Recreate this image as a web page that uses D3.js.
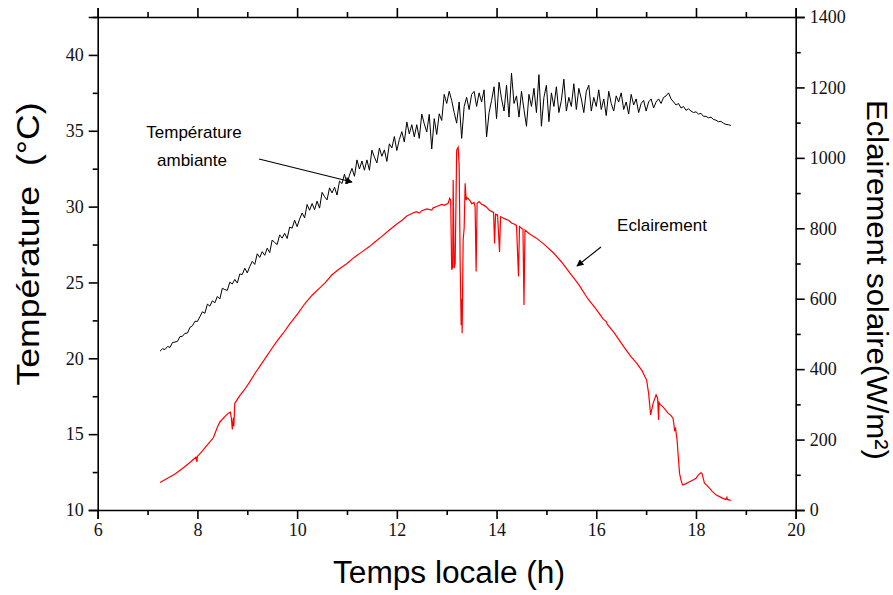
<!DOCTYPE html>
<html><head><meta charset="utf-8">
<script src="https://cdn.jsdelivr.net/npm/d3@7"></script>
<style>body{margin:0;background:#fff}svg{display:block}</style>
</head><body><svg id="c" width="893" height="595"></svg>
<script>
// ---- data ----
const xTicks = [6, 8, 10, 12, 14, 16, 18, 20];
const xMinor = [7, 9, 11, 13, 15, 17, 19];
const tempTicks = [10, 15, 20, 25, 30, 35, 40];
const tempMinor = [12.5, 17.5, 22.5, 27.5, 32.5, 37.5, 42.5];
const irrTicks = [0, 200, 400, 600, 800, 1000, 1200, 1400];
const irrMinor = [100, 300, 500, 700, 900, 1100, 1300];

// ambient temperature (time h, °C)
const temperature = [
[7.25,20.47],[7.30,20.63],[7.35,20.58],[7.40,20.78],[7.45,20.72],[7.50,21.04],[7.55,21.07],[7.60,21.12],[7.65,21.43],[7.70,21.45],
[7.75,21.65],[7.80,21.66],[7.85,22.04],[7.90,22.14],[7.95,22.44],[8.00,22.43],[8.05,22.75],[8.10,23.07],[8.15,22.97],[8.20,23.57],
[8.25,23.44],[8.30,23.79],[8.35,23.66],[8.40,24.08],[8.45,23.91],[8.50,24.62],[8.55,24.53],[8.60,24.48],[8.65,25.02],[8.70,24.9],
[8.75,25.2],[8.80,24.96],[8.85,25.56],[8.90,25.52],[8.95,25.94],[9.00,25.63],[9.05,26.05],[9.10,26.39],[9.15,26.19],[9.20,26.89],
[9.25,26.65],[9.30,27.03],[9.35,26.79],[9.40,27.26],[9.45,26.97],[9.50,27.8],[9.55,27.63],[9.60,27.5],[9.65,28.14],[9.70,27.92],
[9.75,28.24],[9.80,27.9],[9.85,28.65],[9.90,28.58],[9.95,29.1],[10.00,28.68],[10.05,29.18],[10.10,29.58],[10.15,29.26],[10.20,30.14],
[10.25,29.76],[10.30,30.2],[10.35,29.8],[10.40,30.36],[10.45,29.9],[10.50,30.94],[10.55,30.66],[10.60,30.44],[10.65,31.24],[10.70,30.9],
[10.75,31.28],[10.80,30.76],[10.85,31.68],[10.90,31.52],[10.95,32.14],[11.00,31.5],[11.05,32.08],[11.10,32.52],[11.15,32.0],[11.20,33.08],
[11.25,32.48],[11.30,33.0],[11.35,32.4],[11.40,33.08],[11.45,32.4],[11.50,33.72],[11.55,33.26],[11.60,32.88],[11.65,33.86],[11.70,33.32],
[11.75,33.74],[11.80,32.98],[11.85,34.14],[11.90,33.86],[11.95,34.62],[12.00,33.7],[12.05,34.42],[12.10,34.94],[12.15,34.26],[12.20,35.58],
[12.25,34.8],[12.30,35.4],[12.35,34.6],[12.40,35.4],[12.45,34.5],[12.50,36.1],[12.55,35.46],[12.60,34.92],[12.65,36.08],[12.70,33.8],
[12.75,35.8],[12.80,34.76],[12.85,36.12],[12.90,35.68],[12.95,37.4],[13.00,36.8],[13.05,37.6],[13.10,37.0],[13.15,36.2],[13.20,35.5],
[13.25,36.9],[13.30,34.5],[13.35,36.6],[13.40,37.2],[13.45,36.4],[13.50,37.4],[13.55,37.6],[13.60,36.6],[13.65,37.5],[13.70,36.9],
[13.75,37.7],[13.80,34.6],[13.85,36.2],[13.90,37.0],[13.95,37.9],[14.00,35.8],[14.05,38.2],[14.10,37.1],[14.15,36.3],[14.20,38.0],
[14.25,35.9],[14.30,38.8],[14.35,36.8],[14.40,37.3],[14.45,35.9],[14.50,37.6],[14.55,36.4],[14.60,35.3],[14.65,37.4],[14.70,36.6],
[14.75,37.8],[14.80,36.2],[14.85,38.7],[14.90,35.3],[14.95,37.2],[15.00,38.0],[15.05,35.6],[15.10,37.5],[15.15,36.6],[15.20,37.9],
[15.25,36.2],[15.30,37.0],[15.35,38.4],[15.40,36.3],[15.45,37.2],[15.50,36.6],[15.55,38.1],[15.60,36.4],[15.65,37.8],[15.70,37.1],
[15.75,36.2],[15.80,37.6],[15.85,38.0],[15.90,36.3],[15.95,37.2],[16.00,36.6],[16.05,37.7],[16.10,36.4],[16.15,37.1],[16.20,36.0],
[16.25,37.6],[16.30,36.8],[16.35,36.3],[16.40,37.3],[16.45,36.9],[16.50,37.5],[16.55,36.4],[16.60,36.9],[16.65,36.1],[16.70,37.4],
[16.75,36.7],[16.80,37.1],[16.85,36.2],[16.90,36.8],[16.95,37.0],[17.00,36.3],[17.05,36.9],[17.10,37.1],[17.15,36.5],[17.20,36.9],
[17.25,37.1],[17.30,36.8],[17.35,37.2],[17.40,37.3],[17.45,37.5],[17.50,37.1],[17.55,36.9],[17.60,36.7],[17.65,36.8],[17.70,36.5],
[17.75,36.6],[17.80,36.35],[17.85,36.45],[17.90,36.3],[17.95,36.2],[18.00,36.25],[18.05,36.1],[18.10,36.15],[18.15,35.95],[18.20,35.95],
[18.25,35.85],[18.30,35.9],[18.35,35.75],[18.40,35.7],[18.45,35.6],[18.50,35.62],[18.55,35.5],[18.60,35.42],[18.65,35.4],[18.70,35.35]
];

// solar irradiance (time h, W/m²)
const irradiance = [
[7.25,78],[7.4,90],[7.55,102],[7.7,118],[7.85,135],[7.97,150],[7.99,137],[8.0,152],[8.1,168],[8.2,185],[8.32,205],[8.4,235],
[8.45,250],[8.55,265],[8.62,275],[8.66,278],[8.68,262],[8.7,229],[8.72,262],[8.73,238],[8.75,303],[8.85,325],[8.95,343],
[9.05,364],[9.15,387],[9.25,408],[9.38,435],[9.5,460],[9.6,480],[9.72,502],[9.85,528],[10.02,559],[10.15,585],[10.3,610],
[10.45,630],[10.56,645],[10.7,668],[10.85,685],[11.0,700],[11.15,718],[11.3,733],[11.45,748],[11.56,761],[11.7,777],
[11.85,795],[12.0,812],[12.1,822],[12.2,835],[12.3,842],[12.39,847],[12.45,843],[12.5,850],[12.6,855],[12.7,852],[12.73,858],
[12.8,862],[12.9,868],[12.95,865],[13.03,871],[13.06,885],[13.08,880],[13.1,682],[13.12,690],[13.13,937],[13.15,687],
[13.17,700],[13.2,1022],[13.23,1030],[13.25,980],[13.27,700],[13.29,525],[13.3,600],[13.31,502],[13.33,767],[13.35,800],
[13.37,928],[13.39,880],[13.41,887],[13.43,885],[13.47,878],[13.5,870],[13.55,873],[13.57,860],[13.59,677],[13.61,871],
[13.65,876],[13.7,868],[13.75,865],[13.8,860],[13.85,852],[13.9,848],[13.94,845],[13.96,757],[13.98,840],[14.02,838],
[14.06,733],[14.08,833],[14.12,830],[14.18,826],[14.25,822],[14.3,815],[14.35,812],[14.4,808],[14.44,663],[14.46,805],
[14.5,800],[14.53,797],[14.55,582],[14.57,795],[14.65,785],[14.8,772],[14.95,755],[15.15,729],[15.3,705],[15.5,668],
[15.65,640],[15.83,600],[16.0,570],[16.14,542],[16.2,535],[16.22,528],[16.35,505],[16.55,464],[16.7,435],[16.81,417],
[16.92,395],[17.01,369],[17.05,331],[17.09,270],[17.12,290],[17.14,303],[17.2,327],[17.23,318],[17.25,256],[17.26,305],
[17.28,300],[17.34,293],[17.44,275],[17.5,268],[17.54,260],[17.56,240],[17.57,227],[17.59,232],[17.62,200],[17.64,161],
[17.67,104],[17.7,85],[17.73,71],[17.8,75],[17.87,80],[17.95,86],[18.0,90],[18.05,100],[18.1,106],[18.12,104],[18.17,76],
[18.22,70],[18.27,62],[18.33,52],[18.4,43],[18.47,38],[18.54,33],[18.6,30],[18.62,36],[18.63,30],[18.67,28],[18.7,28]
];

// ---- chart ----
const svg = d3.select("#c");
const L = 97.7, R = 795.7, T = 17, B = 510;
const x = d3.scaleLinear().domain([6, 20]).range([L, R]);
const yT = d3.scaleLinear().domain([10, 42.5]).range([B, T]);
const yE = d3.scaleLinear().domain([0, 1400]).range([B, T]);

const serif = "Liberation Serif, Times New Roman, serif";
const sans = "Liberation Sans, Arial, sans-serif";

function styleAxis(g, labels) {
  g.attr("font-family", serif).attr("font-size", 18);
  g.select(".domain").attr("stroke", "#000").attr("stroke-width", 1.6);
  g.selectAll(".tick line").attr("stroke", "#000").attr("stroke-width", 1.6);
  g.selectAll(".tick text").attr("fill", "#111").attr("font-family", serif);
  if (!labels) g.selectAll(".tick text").remove();
}

// bottom
svg.append("g").attr("transform", `translate(0,${B})`)
  .call(d3.axisBottom(x).tickValues(xTicks).tickSize(9).tickPadding(4).tickFormat(d3.format("d")))
  .call(g => styleAxis(g, true));
svg.append("g").attr("transform", `translate(0,${B})`)
  .call(d3.axisBottom(x).tickValues(xMinor).tickSize(5))
  .call(g => { styleAxis(g, false); g.select(".domain").remove(); });
// top
svg.append("g").attr("transform", `translate(0,${T})`)
  .call(d3.axisTop(x).tickValues(xTicks).tickSize(9))
  .call(g => styleAxis(g, false));
svg.append("g").attr("transform", `translate(0,${T})`)
  .call(d3.axisTop(x).tickValues(xMinor).tickSize(5))
  .call(g => { styleAxis(g, false); g.select(".domain").remove(); });
// left
svg.append("g").attr("transform", `translate(${L},0)`)
  .call(d3.axisLeft(yT).tickValues(tempTicks).tickSize(9).tickPadding(5).tickFormat(d3.format("d")))
  .call(g => styleAxis(g, true));
svg.append("g").attr("transform", `translate(${L},0)`)
  .call(d3.axisLeft(yT).tickValues(tempMinor).tickSize(5))
  .call(g => { styleAxis(g, false); g.select(".domain").remove(); });
// right
svg.append("g").attr("transform", `translate(${R},0)`)
  .call(d3.axisRight(yE).tickValues(irrTicks).tickSize(9).tickPadding(5).tickFormat(d3.format("d")))
  .call(g => styleAxis(g, true));
svg.append("g").attr("transform", `translate(${R},0)`)
  .call(d3.axisRight(yE).tickValues(irrMinor).tickSize(5))
  .call(g => { styleAxis(g, false); g.select(".domain").remove(); });

// lines
svg.append("path").datum(irradiance)
  .attr("fill", "none").attr("stroke", "#ff0000").attr("stroke-width", 1.2)
  .attr("d", d3.line().x(d => x(d[0])).y(d => yE(d[1])));
svg.append("path").datum(temperature)
  .attr("fill", "none").attr("stroke", "#000").attr("stroke-width", 1.0)
  .attr("d", d3.line().x(d => x(d[0])).y(d => yT(d[1])));

// axis titles
svg.append("text").attr("x", 449).attr("y", 583).attr("text-anchor", "middle")
  .attr("font-family", sans).attr("font-size", 31)
  .attr("textLength", 232).attr("lengthAdjust", "spacingAndGlyphs").text("Temps locale (h)");
svg.append("text").attr("transform", "translate(39,244) rotate(-90)").attr("text-anchor", "middle")
  .attr("font-family", sans).attr("font-size", 32).attr("xml:space", "preserve")
  .attr("textLength", 283).attr("lengthAdjust", "spacingAndGlyphs").text("Température  (°C)");
svg.append("text").attr("transform", "translate(867,280) rotate(90)").attr("text-anchor", "middle")
  .attr("font-family", sans).attr("font-size", 30)
  .attr("textLength", 360).attr("lengthAdjust", "spacingAndGlyphs").text("Eclairement solaire(W/m²)");

// annotations
svg.append("defs").append("marker").attr("id", "ah").attr("viewBox", "0 0 10 10")
  .attr("refX", 9).attr("refY", 5).attr("markerWidth", 9).attr("markerHeight", 7)
  .attr("markerUnits", "userSpaceOnUse").attr("orient", "auto")
  .append("path").attr("d", "M0,0 L10,5 L0,10 Z").attr("fill", "#000");
svg.append("text").attr("x", 194).attr("y", 138).attr("text-anchor", "middle")
  .attr("font-family", sans).attr("font-size", 17).text("Température");
svg.append("text").attr("x", 192).attr("y", 166).attr("text-anchor", "middle")
  .attr("font-family", sans).attr("font-size", 17).text("ambiante");
svg.append("line").attr("x1", 259).attr("y1", 159).attr("x2", 352).attr("y2", 182)
  .attr("stroke", "#000").attr("stroke-width", 1.1).attr("marker-end", "url(#ah)");
svg.append("text").attr("x", 662).attr("y", 231).attr("text-anchor", "middle")
  .attr("font-family", sans).attr("font-size", 17).text("Eclairement");
svg.append("line").attr("x1", 601).attr("y1", 247).attr("x2", 577).attr("y2", 266)
  .attr("stroke", "#000").attr("stroke-width", 1.1).attr("marker-end", "url(#ah)");
</script></body></html>
